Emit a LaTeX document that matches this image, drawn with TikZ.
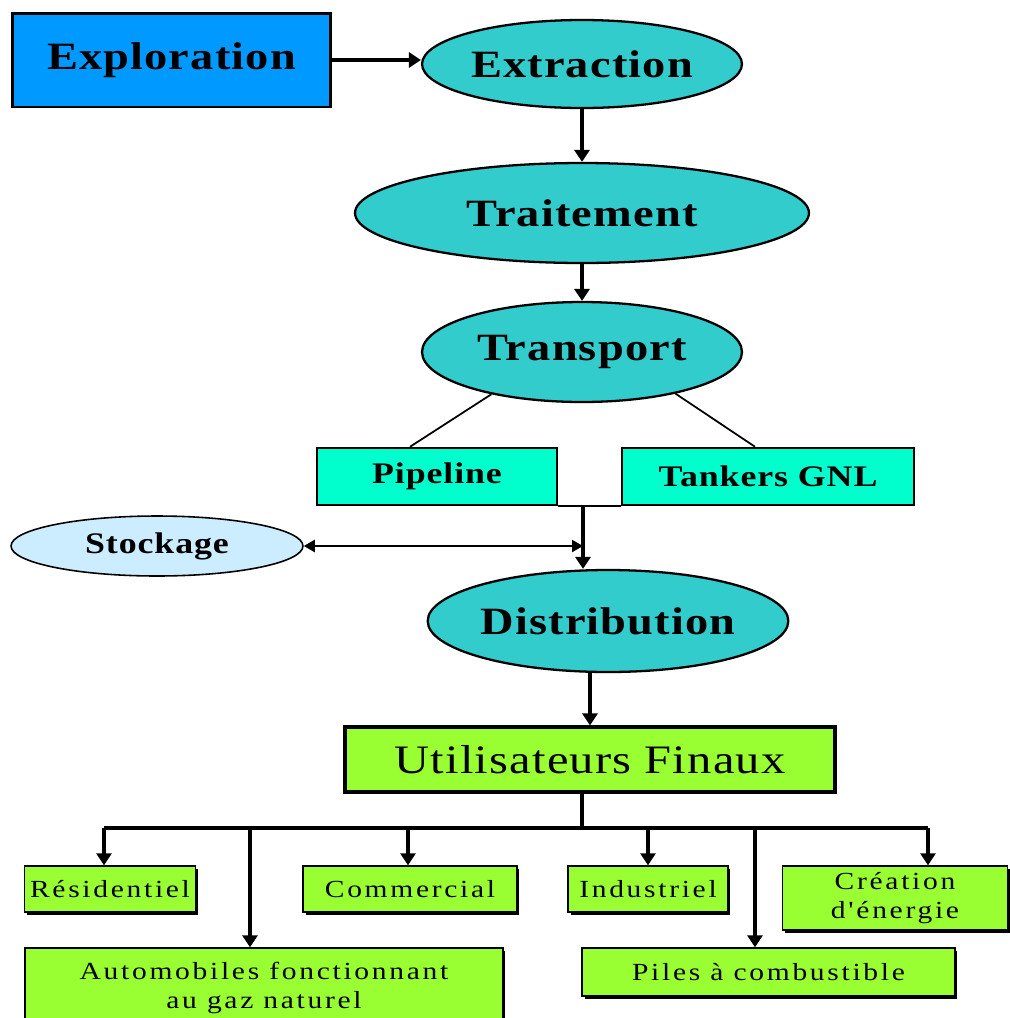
\documentclass[tikz,border=0pt]{standalone}
\usepackage{fontspec}
\setmainfont{Liberation Serif}
\newfontfamily\grandefonte[FakeStretch=1.2, LetterSpace=3]{Liberation Serif}
\newfontfamily\petitefonte[FakeStretch=1.2, LetterSpace=11]{Liberation Serif}
\usepackage{xcolor}
\usetikzlibrary{shapes.geometric,arrows.meta}
\usetikzlibrary{shadows}

\definecolor{bleuexpl}{RGB}{0,153,255}
\definecolor{turquoise}{RGB}{51,204,204}
\definecolor{vertaqua}{RGB}{0,255,204}
\definecolor{bleuclair}{RGB}{204,236,255}
\definecolor{vertlime}{RGB}{153,255,51}

\begin{document}
\begin{tikzpicture}[x=0.02cm, y=-0.02cm,
        fleche/.style={-{Triangle[length=0.24cm,width=0.3cm]}, line width=2pt},
        etape/.style={ellipse, draw, line width=1.3pt, fill=turquoise, inner sep=0pt, font=\grandefonte\bfseries\fontsize{22}{24}\selectfont},
        moyen/.style={rectangle, draw, line width=1.4pt, fill=vertaqua, inner sep=0pt, minimum height=1.14cm, font=\grandefonte\bfseries\fontsize{17}{20}\selectfont},
        usage/.style={rectangle, draw, line width=0.8pt, fill=vertlime, inner sep=0pt, align=center, drop shadow={shadow xshift=0.05cm, shadow yshift=-0.05cm, opacity=1, fill=black}, font=\petitefonte\fontsize{14}{16.5}\selectfont}]
        %CADRE
        \useasboundingbox[fill=white] (0,0) rectangle (1009,1018);
        %NOEUDS
        \node[rectangle, draw, line width=1.7pt, fill=bleuexpl, minimum width=6.38cm, minimum height=1.88cm, font=\grandefonte\bfseries\fontsize{22}{24}\selectfont] (explo) at (171.5,60) {Exploration};
        \node[etape, minimum width=6.4cm, minimum height=1.76cm] (extrac) at (582,64) {Extraction};
        \node[etape, minimum width=9.08cm, minimum height=2cm] (trait) at (582,213) {Traitement};
        \node[etape, minimum width=6.4cm, minimum height=2cm] (transp) at (582,352) {Transport};
        \node[moyen, minimum width=4.8cm] (pipe) at (437,476.5) {Pipeline};
        \node[moyen, minimum width=5.84cm] (tank) at (768,476.5) {Tankers GNL};
        \node[ellipse, draw, line width=0.9pt, fill=bleuclair, inner sep=0pt, minimum width=5.84cm, minimum height=1.2cm, font=\grandefonte\bfseries\fontsize{17}{20}\selectfont] (stock) at (157,546) {Stockage};
        \node[etape, minimum width=6.4cm, minimum height=2.04cm] (distrib) at (608,621) {Distribution};
        \node[rectangle, draw, line width=1.8pt, fill=vertlime, inner sep=0pt, minimum width=9.8cm, minimum height=1.3cm, font=\grandefonte\fontsize{23}{26}\selectfont] (util) at (590,759.5) {Utilisateurs Finaux};
        \node[usage, minimum width=3.42cm, minimum height=0.92cm] (resid) at (110,889) {Résidentiel};
        \node[usage, minimum width=4.28cm, minimum height=0.92cm] (comm) at (410,889) {Commercial};
        \node[usage, minimum width=3.2cm, minimum height=0.92cm] (indus) at (648,889) {Industriel};
        \node[usage, minimum width=4.5cm, minimum height=1.28cm] (creat) at (895,898) {Création\\d'énergie};
        \node[usage, minimum width=9.56cm, minimum height=1.6cm] (auto) at (264,988) {Automobiles fonctionnant\\au gaz naturel};
        \node[usage, minimum width=7.46cm, minimum height=0.96cm] (piles) at (768.5,972) {Piles à combustible};
        %KOORDINAT
        \coordinate (jonction) at (583,505);
        \coordinate (bus) at (582,828);
        %FLECHES
        \draw[fleche] (explo.east) -- (explo.east -| extrac.west);
        \draw[fleche] (extrac.south) -- (trait.north);
        \draw[fleche] (trait.south) -- (transp.north);
        \draw[line width=1pt] (transp.205) -- ([xshift=-0.54cm]pipe.north);
        \draw[line width=1pt] (transp.336) -- ([xshift=-0.26cm]tank.north);
        \draw[line width=1.4pt] (pipe.south east) -- (tank.south west);
        \draw[fleche] (jonction) -- (jonction |- distrib.north);
        \draw[line width=1.3pt, {Triangle[length=0.22cm,width=0.24cm]}-{Triangle[length=0.22cm,width=0.24cm]}] (stock.east) -- (stock.east -| jonction);
        \draw[fleche] (util.north |- distrib.south) -- (util.north);
        \draw[line width=2pt] (bus |- util.south) -- (bus);
        \draw[line width=2pt] (104,828) -- (928,828);
        \foreach \x/\cible in {104/resid, 250/auto, 408/comm, 648/indus, 755/piles, 928/creat}{
            \coordinate (d\cible) at (\x,828);
            \draw[fleche] (d\cible) -- (d\cible |- \cible.north);
        }
\end{tikzpicture}
\end{document}
